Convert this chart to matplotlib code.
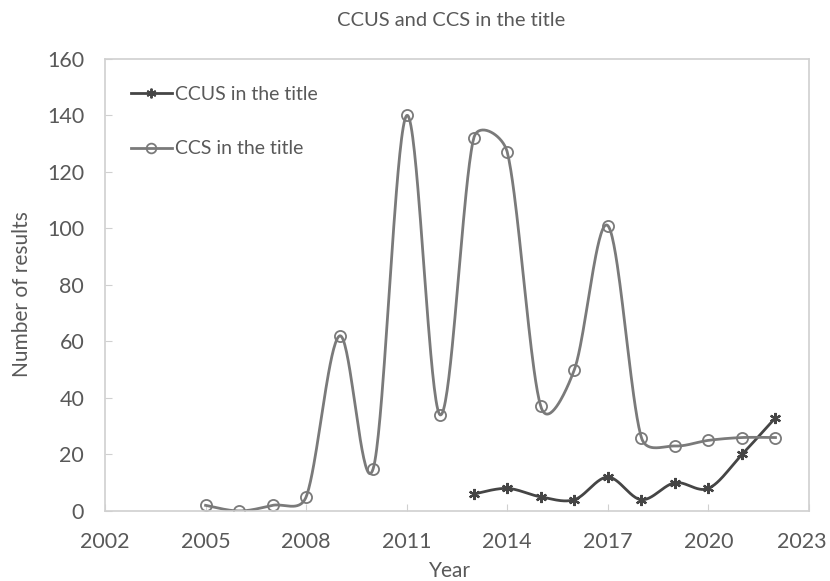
import numpy as np
import matplotlib
matplotlib.use("Agg")
import matplotlib.pyplot as plt
from matplotlib.transforms import ScaledTranslation

plt.rcParams['font.family'] = ['Lato', 'DejaVu Sans']

# search result counts per year
ccs_years = [2005, 2006, 2007, 2008, 2009, 2010, 2011, 2012, 2013,
             2014, 2015, 2016, 2017, 2018, 2019, 2020, 2021, 2022]
ccs_counts = [2, 0, 2, 5, 62, 15, 140, 34, 132,
              127, 37, 50, 101, 26, 23, 25, 26, 26]
ccus_years = [2013, 2014, 2015, 2016, 2017, 2018, 2019, 2020, 2021, 2022]
ccus_counts = [6, 8, 5, 4, 12, 4, 10, 8, 20, 33]

x_ticks = [2002, 2005, 2008, 2011, 2014, 2017, 2020, 2023]
y_ticks = [0, 20, 40, 60, 80, 100, 120, 140, 160]


def smooth(ax, xs, ys, k=1 / 6, n=40):
    # bezier through the points in screen space; handles capped at half
    # the segment length so steep jumps don't overshoot much
    tr = ax.transData
    p = tr.transform(np.column_stack([xs, ys]).astype(float))
    p = np.vstack([p[0], p, p[-1]])
    t = np.linspace(0, 1, n)[:, None]
    out = []
    for i in range(1, len(p) - 2):
        p0, p1, p2, p3 = p[i - 1], p[i], p[i + 1], p[i + 2]
        seg_len = np.hypot(*(p2 - p1))
        h1 = (p2 - p0) * k
        h2 = (p3 - p1) * k
        for h in (h1, h2):
            ln = np.hypot(*h)
            if ln > 0.5 * seg_len:
                h *= 0.5 * seg_len / ln
        c1 = p1 + h1
        c2 = p2 - h2
        seg = ((1 - t) ** 3) * p1 + 3 * ((1 - t) ** 2) * t * c1 \
            + 3 * (1 - t) * t ** 2 * c2 + t ** 3 * p2
        out.append(seg if i == 1 else seg[1:])
    seg = tr.inverted().transform(np.vstack(out))
    return seg[:, 0], seg[:, 1]


dark = '#454545'
mid = '#7a7a7a'
text_c = '#595959'
grid_c = '#d0d0d0'

fig = plt.figure(figsize=(8.3, 5.81), dpi=100)
ax = fig.add_axes((0.1265, 0.1205, 0.8482, 0.778))
ax.set_xlim(2002, 2023)
ax.set_ylim(0, 160)

sx, sy = smooth(ax, ccus_years, ccus_counts)
ax.plot(sx, sy, color=dark, lw=2)
ax.plot(ccus_years, ccus_counts, ls='none', marker=(6, 2, 0), ms=8,
        mec=dark, mew=1.6)
sx, sy = smooth(ax, ccs_years, ccs_counts)
ax.plot(sx, sy, color=mid, lw=2)
ax.plot(ccs_years, ccs_counts, ls='none', marker='o', ms=8,
        mfc='none', mec=mid, mew=1.3)

# legend proxies
h1, = ax.plot([], [], color=dark, lw=2, marker=(6, 2, 0), ms=7, mec=dark, mew=1.4)
h2, = ax.plot([], [], color=mid, lw=2, marker='o', ms=7, mfc='none', mec=mid, mew=1.3)
leg = ax.legend([h1, h2], ['CCUS in the title', 'CCS in the title'],
                loc='upper left', bbox_to_anchor=(0.012, 0.98), frameon=False,
                fontsize=14, labelspacing=1.95, handlelength=2.1,
                handletextpad=0.15, labelcolor=text_c)

ax.set_xticks(x_ticks)
ax.set_yticks(y_ticks)
ax.tick_params(direction='in', length=5, color=grid_c, labelcolor=text_c,
               labelsize=15.5)
ax.tick_params(axis='x', pad=15)
ax.tick_params(axis='y', pad=15)
# keep the last year label inside the canvas
last = ax.get_xticklabels()[-1]
last.set_transform(last.get_transform() + ScaledTranslation(-7 / 100, 0, fig.dpi_scale_trans))
for s in ax.spines.values():
    s.set_color(grid_c)
    s.set_linewidth(1.2)

ax.set_xlabel('Year', fontsize=15, color=text_c, va='top')
ax.xaxis.set_label_coords(0.49, -0.11)
ax.set_ylabel('Number of results', fontsize=15, color=text_c)
ax.yaxis.set_label_coords(-0.104, 0.48)
fig.text(0.543, 0.965, 'CCUS and CCS in the title', fontsize=14.5,
         color=text_c, ha='center', va='center')

fig.savefig('out.png', dpi=100)
